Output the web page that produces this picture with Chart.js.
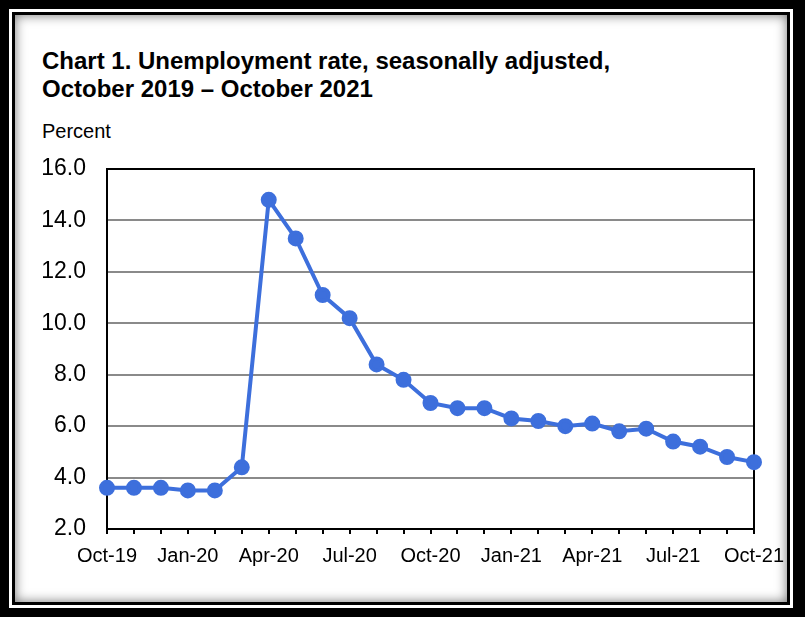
<!DOCTYPE html>
<html>
<head>
<meta charset="utf-8">
<script src="https://cdn.jsdelivr.net/npm/chart.js"></script>
<style>
  body { margin: 0; width: 805px; height: 617px; background: #000; position: relative; overflow: hidden; font-family: Arial, "Liberation Sans", sans-serif; }
  #outer { position: absolute; left: 9px; top: 9px; right: 12px; bottom: 9px; background: #fff; }
  #inner { position: absolute; left: 3px; top: 3px; right: 3px; bottom: 3px; border: 3px solid #000; background: #fff; box-shadow: inset 0 0 12px rgba(0,0,0,0.55); }
  #title { position: absolute; left: 42px; top: 47px; font-size: 24px; line-height: 28px; font-weight: bold; color: #000; }
  #unit { position: absolute; left: 42px; top: 121px; font-size: 20px; line-height: 20px; color: #000; }
  #wrap { position: absolute; left: 0; top: 0; width: 805px; height: 617px; }
</style>
</head>
<body>
<div id="outer"><div id="inner"></div></div>
<div id="title">Chart 1. Unemployment rate, seasonally adjusted,<br>October 2019 – October 2021</div>
<div id="unit">Percent</div>
<div id="wrap"><canvas id="myChart" width="805" height="617"></canvas></div>
<script>
// months Oct-19 .. Oct-21
const months = ['Oct-19','Nov-19','Dec-19','Jan-20','Feb-20','Mar-20','Apr-20','May-20','Jun-20','Jul-20','Aug-20','Sep-20',
  'Oct-20','Nov-20','Dec-20','Jan-21','Feb-21','Mar-21','Apr-21','May-21','Jun-21','Jul-21','Aug-21','Sep-21','Oct-21'];
// unemployment rate, percent
const rate = [3.6, 3.6, 3.6, 3.5, 3.5, 4.4, 14.8, 13.3, 11.1, 10.2, 8.4, 7.8,
  6.9, 6.7, 6.7, 6.3, 6.2, 6.0, 6.1, 5.8, 5.9, 5.4, 5.2, 4.8, 4.6];
const yMin = 2, yMax = 16, yStep = 2;

// black box round the plot area
const boxPlugin = {
  id: 'box',
  beforeDatasetsDraw(chart) {
    const a = chart.chartArea, c = chart.ctx;
    c.save();
    c.strokeStyle = '#000';
    c.lineWidth = 2;
    c.strokeRect(a.left, a.top, a.right - a.left, a.bottom - a.top);
    c.restore();
  }
};

new Chart(document.getElementById('myChart').getContext('2d'), {
  type: 'line',
  data: {
    labels: months,
    datasets: [{
      data: rate,
      borderColor: '#3d6fdc',
      backgroundColor: '#3d6fdc',
      borderWidth: 4,
      pointRadius: 6,
      pointHoverRadius: 6,
      tension: 0
    }]
  },
  options: {
    responsive: false,
    animation: false,
    layout: { padding: { left: 27, right: 51, top: 169, bottom: 48 } },
    plugins: { legend: { display: false }, tooltip: { enabled: false } },
    scales: {
      x: {
        offset: false,
        afterFit: s => { s.height = 40; },
        grid: { drawOnChartArea: false, drawTicks: true, tickLength: 5, color: '#000', lineWidth: 2 },
        border: { display: true, color: '#000', width: 2 },
        ticks: {
          autoSkip: false, maxRotation: 0, padding: 10, color: '#000',
          font: { family: 'Arial, "Liberation Sans"', size: 20 },
          callback: (v, i) => (i % 3 === 0 ? months[i] : '')
        }
      },
      y: {
        min: yMin, max: yMax,
        afterFit: s => { s.width = 80; },
        grid: { color: '#8a8a8a', lineWidth: 2, drawTicks: false },
        border: { display: true, color: '#000', width: 2 },
        ticks: {
          stepSize: yStep, padding: 21, color: '#000',
          font: { family: 'Arial, "Liberation Sans"', size: 23 },
          callback: v => v.toFixed(1)
        }
      }
    }
  },
  plugins: [boxPlugin]
});
</script>
</body>
</html>
